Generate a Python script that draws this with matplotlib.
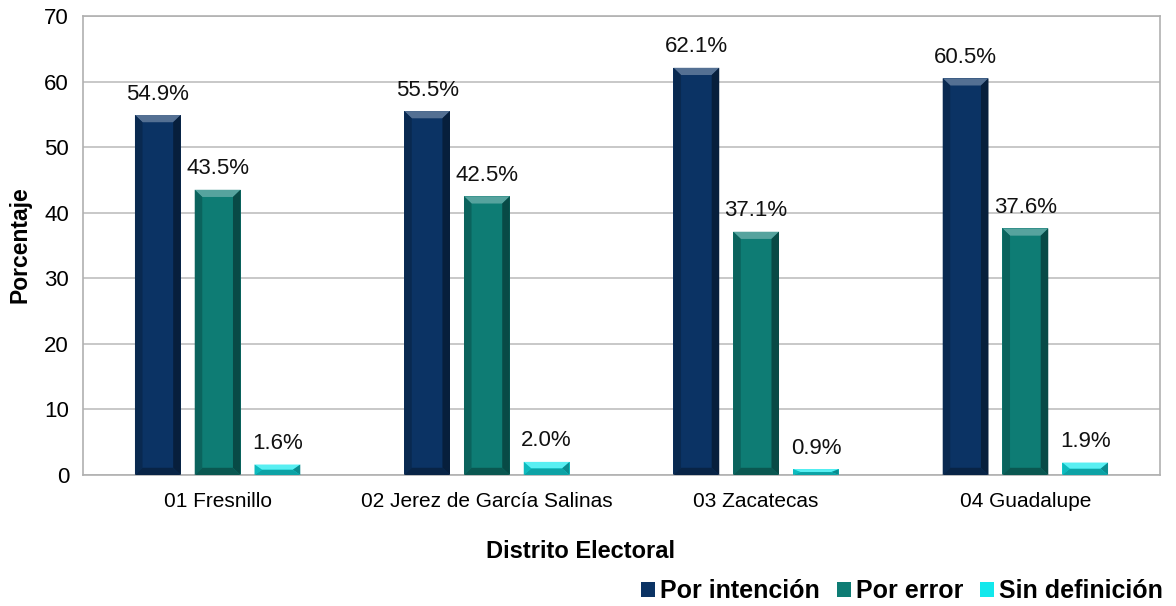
import matplotlib.pyplot as plt
import matplotlib.colors as mcolors
from matplotlib.patches import Polygon
import numpy as np

plt.rcParams['font.family'] = ['Liberation Sans', 'DejaVu Sans']

distritos = ['01 Fresnillo', '02 Jerez de García Salinas', '03 Zacatecas', '04 Guadalupe']
series = ['Por intención', 'Por error', 'Sin definición']
por_intencion = [54.9, 55.5, 62.1, 60.5]
por_error = [43.5, 42.5, 37.1, 37.6]
sin_definicion = [1.6, 2.0, 0.9, 1.9]
colores = ['#0B3364', '#0E7C74', '#12E8EC']


def shade(c, f):
    r, g, b = mcolors.to_rgb(c)
    if f > 1:
        return (r + (1 - r) * (f - 1), g + (1 - g) * (f - 1), b + (1 - b) * (f - 1))
    return (r * f, g * f, b * f)


def bevel(ax, x0, w, h, color, dx, dy):
    # beveled edges: light top, dark sides and bottom
    dx = min(dx, w / 2)
    dy = min(dy, h / 2)
    x1 = x0 + w
    ax.add_patch(Polygon([(x0, h), (x1, h), (x1 - dx, h - dy), (x0 + dx, h - dy)],
                         closed=True, color=shade(color, 1.3), lw=0, zorder=3))
    ax.add_patch(Polygon([(x1, h), (x1, 0), (x1 - dx, dy), (x1 - dx, h - dy)],
                         closed=True, color=shade(color, 0.6), lw=0, zorder=3))
    ax.add_patch(Polygon([(x0, h), (x0, 0), (x0 + dx, dy), (x0 + dx, h - dy)],
                         closed=True, color=shade(color, 0.8), lw=0, zorder=3))
    ax.add_patch(Polygon([(x0, 0), (x1, 0), (x1 - dx, dy), (x0 + dx, dy)],
                         closed=True, color=shade(color, 0.7), lw=0, zorder=3))


fig = plt.figure(figsize=(11.76, 6.06), dpi=100)
ax = fig.add_axes([83 / 1176, 131 / 606, 1077 / 1176, 459 / 606])

x = np.arange(len(distritos))
ancho = 0.17
offsets = [-0.222, 0.0, 0.222]
datos = [por_intencion, por_error, sin_definicion]

for vals, off, col, nombre in zip(datos, offsets, colores, series):
    barras = ax.bar(x + off, vals, ancho, color=col, label=nombre, zorder=2)
    for b, v in zip(barras, vals):
        bevel(ax, b.get_x(), b.get_width(), v, col, 0.028, 1.1)
        ax.text(b.get_x() + b.get_width() / 2, v + 1.6, f'{v:.1f}%',
                ha='center', va='bottom', fontsize=16, color='#111111')

ax.set_xlim(-0.5, len(distritos) - 0.5)
ax.set_ylim(0, 70)
ax.set_yticks(range(0, 71, 10))
ax.set_xticks(x)
ax.set_xticklabels(distritos, fontsize=15)
ax.tick_params(axis='y', labelsize=16, length=0, pad=10)
ax.tick_params(axis='x', length=0, pad=12)
ax.yaxis.grid(True, color='#BFBFBF', lw=1.2, zorder=0)
ax.set_axisbelow(True)
for s in ax.spines.values():
    s.set_color('#B0B0B0')
    s.set_linewidth(1.2)

fig.text(20 / 1176, 1 - 245 / 606, 'Porcentaje', rotation=90, ha='center', va='center',
         fontsize=16.5, fontweight='bold')
fig.text(581 / 1176, 1 - 552 / 606, 'Distrito Electoral', ha='center', va='center',
         fontsize=17, fontweight='bold')

leg = fig.legend(loc='center right', bbox_to_anchor=(1178 / 1176, 1 - 591 / 606), ncol=3,
                 frameon=False, prop={'weight': 'bold', 'size': 18},
                 handlelength=0.55, handleheight=0.55, handletextpad=0.2, columnspacing=0.7,
                 borderpad=0.1)

fig.savefig('out.png', dpi=100)
